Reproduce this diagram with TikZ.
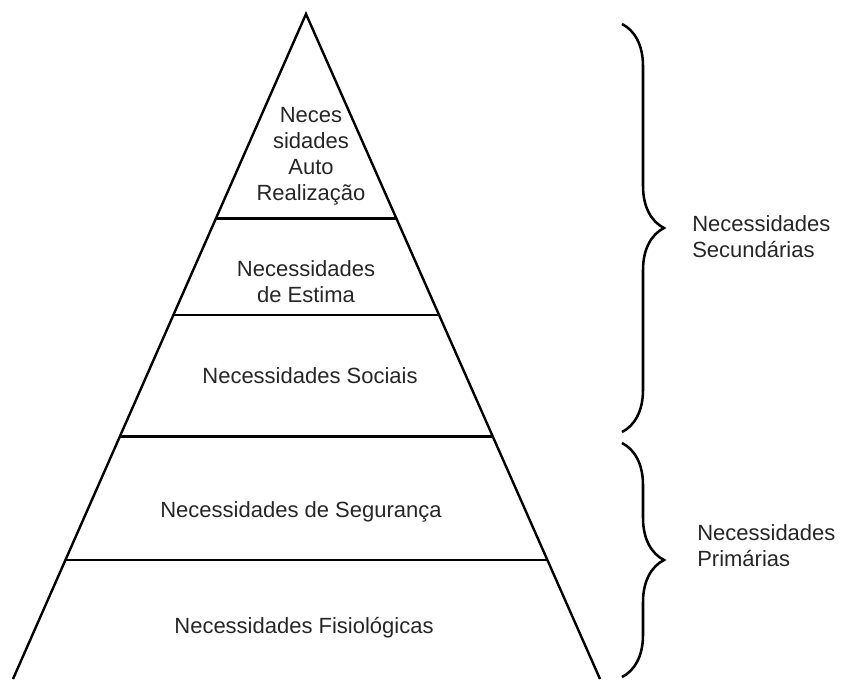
\documentclass[tikz,border=0pt]{standalone}
\usepackage{fontspec}
\setmainfont{Liberation Sans}
\usetikzlibrary{calc,decorations.pathreplacing}

\tikzset{
  level/.style={align=center,text=black!85,inner sep=0pt,font=\fontsize{16.5}{19.5}\selectfont},
  side/.style={level,align=left,anchor=west},
  cut/.style={line width=2.2pt},
  grp/.style={decorate,decoration={brace,amplitude=31.5pt},line width=1.9pt}
}

\begin{document}
\begin{tikzpicture}[x=0.75pt,y=-0.75pt]
  \clip (0,0) rectangle (841,679);
  \coordinate (top) at (306,14);
  \coordinate (bl) at (13,679);
  \coordinate (br) at (600,679);
  \draw[line width=1.8pt] (bl) -- (top) -- (br);
  \foreach \t in {0.307,0.4526,0.636,0.821}
    \draw[cut] ($(top)!\t!(bl)$) -- ($(top)!\t!(br)$);
  \node[level] (auto) at (311,156) {Neces\\sidades\\Auto\\Realização};
  \node[level] (estima) at (306,282) {Necessidades\\de Estima};
  \node[level] (social) at (310,376) {Necessidades Sociais};
  \node[level] (segur) at (301,512) {Necessidades de Segurança};
  \node[level] (fisio) at (304,628) {Necessidades Fisiológicas};
  \coordinate (s1) at (622,24);
  \coordinate (s2) at (622,432);
  \coordinate (p1) at (622,443);
  \coordinate (p2) at (622,677);
  \draw[grp] (s1) -- (s2);
  \draw[grp] (p1) -- (p2);
  \node[side] (sec) at (692,237) {Necessidades\\Secundárias};
  \node[side] (pri) at (697,546) {Necessidades\\Primárias};
\end{tikzpicture}
\end{document}
